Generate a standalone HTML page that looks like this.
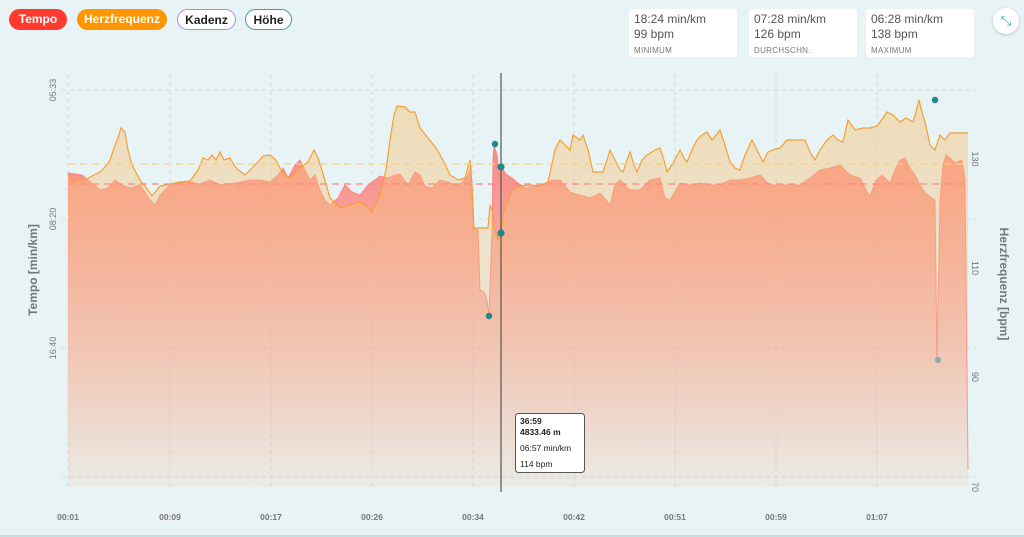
<!DOCTYPE html>
<html><head><meta charset="utf-8"><style>
body{margin:0;width:1024px;height:537px;background:#e8f3f6;font-family:"Liberation Sans",sans-serif;overflow:hidden;position:relative}
.pill{position:absolute;top:9px;height:21px;border-radius:12px;font-size:12px;font-weight:bold;line-height:21px;text-align:center;box-sizing:border-box}
.box{position:absolute;top:9px;width:108px;height:48px;background:#fff;border-radius:3px;font-size:12px;color:#555;padding:3px 5px;box-sizing:border-box;line-height:15px}
.box small{font-size:8px;color:#777;letter-spacing:.3px}
</style></head><body>
<div class="pill" style="left:9px;width:58px;background:#ff3b30;color:#fff">Tempo</div>
<div class="pill" style="left:77px;width:90px;background:#ff9500;color:#fff">Herzfrequenz</div>
<div class="pill" style="left:177px;width:59px;background:#fff;border:1.5px solid #a98af0;color:#222">Kadenz</div>
<div class="pill" style="left:245px;width:47px;background:#fff;border:1.5px solid #4a9a9a;color:#222">Höhe</div>
<div class="box" style="left:629px">18:24 min/km<br>99 bpm<br><small>MINIMUM</small></div>
<div class="box" style="left:749px">07:28 min/km<br>126 bpm<br><small>DURCHSCHN.</small></div>
<div class="box" style="left:866px">06:28 min/km<br>138 bpm<br><small>MAXIMUM</small></div>
<div style="position:absolute;left:993px;top:8px;width:26px;height:26px;border-radius:50%;background:#fff;box-shadow:0 1px 3px rgba(0,0,0,.2);color:#2aa9a9;font-size:13px;text-align:center;line-height:26px">⤡</div>
<svg width="1024" height="537" style="position:absolute;left:0;top:0">
<defs>
<linearGradient id="tg" x1="0" y1="0" x2="0" y2="1"><stop offset="0" stop-color="#fb8a84"/><stop offset="1" stop-color="#fb8a84" stop-opacity="0.03"/></linearGradient>
<linearGradient id="hg" x1="0" y1="0" x2="0" y2="1"><stop offset="0" stop-color="#f6c37a" stop-opacity="0.5"/><stop offset="1" stop-color="#f6c37a" stop-opacity="0.1"/></linearGradient>
</defs>
<g stroke="#c9dde0" stroke-dasharray="4,4" stroke-width="1">
<line x1="62" y1="90" x2="975" y2="90"/><line x1="62" y1="219" x2="975" y2="219"/><line x1="62" y1="348" x2="975" y2="348"/><line x1="62" y1="477" x2="975" y2="477"/>
<line x1="68" y1="75" x2="68" y2="490"/><line x1="170" y1="75" x2="170" y2="490"/><line x1="271" y1="75" x2="271" y2="490"/><line x1="372" y1="75" x2="372" y2="490"/><line x1="473" y1="75" x2="473" y2="490"/><line x1="574" y1="75" x2="574" y2="490"/><line x1="675" y1="75" x2="675" y2="490"/><line x1="776" y1="75" x2="776" y2="490"/><line x1="877" y1="75" x2="877" y2="490"/>
</g>
<path fill="url(#tg)" stroke="none" d="M68,487 L68,173 75,174 82,175 88,180 93,184 100,190 108,188 115,180 122,185 130,188 140,185 150,200 155,205 160,195 170,185 180,183 190,182 200,184 210,180 220,185 235,183 250,180 262,180 270,182 278,175 283,168 288,178 295,165 300,160 305,170 310,180 315,175 320,190 325,200 330,205 338,198 345,185 352,192 360,195 368,185 375,180 380,176 388,178 395,175 400,174 408,185 415,172 420,175 425,186 432,188 440,180 448,182 455,185 462,183 468,175 471,165 473,228 478,230 480,290 484,292 487,300 489,316 492,230 493,160 494,145 497,155 499,175 501,167 506,174 512,178 518,183 526,188 534,186 542,185 552,180 560,180 570,192 580,195 590,198 600,193 610,205 615,185 620,180 630,190 640,190 650,180 660,178 665,198 670,200 680,183 690,185 700,183 710,185 720,185 730,180 740,180 750,178 760,175 770,185 780,185 790,185 800,185 810,178 820,170 830,168 840,165 850,175 860,178 866,190 870,196 876,180 882,175 890,183 895,170 900,160 905,158 910,168 915,175 920,185 925,193 932,198 935,200 937,360 940,200 943,165 946,155 950,158 955,163 962,160 965,180 968,470 968,487Z"/>
<path fill="none" stroke="#f77" stroke-width="1" opacity=".8" d="M68,173 75,174 82,175 88,180 93,184 100,190 108,188 115,180 122,185 130,188 140,185 150,200 155,205 160,195 170,185 180,183 190,182 200,184 210,180 220,185 235,183 250,180 262,180 270,182 278,175 283,168 288,178 295,165 300,160 305,170 310,180 315,175 320,190 325,200 330,205 338,198 345,185 352,192 360,195 368,185 375,180 380,176 388,178 395,175 400,174 408,185 415,172 420,175 425,186 432,188 440,180 448,182 455,185 462,183 468,175 471,165 473,228 478,230 480,290 484,292 487,300 489,316 492,230 493,160 494,145 497,155 499,175 501,167 506,174 512,178 518,183 526,188 534,186 542,185 552,180 560,180 570,192 580,195 590,198 600,193 610,205 615,185 620,180 630,190 640,190 650,180 660,178 665,198 670,200 680,183 690,185 700,183 710,185 720,185 730,180 740,180 750,178 760,175 770,185 780,185 790,185 800,185 810,178 820,170 830,168 840,165 850,175 860,178 866,190 870,196 876,180 882,175 890,183 895,170 900,160 905,158 910,168 915,175 920,185 925,193 932,198 935,200 937,360 940,200 943,165 946,155 950,158 955,163 962,160 965,180 968,470"/>
<path fill="url(#hg)" stroke="none" d="M68,487 L68,175 72,182 78,180 85,180 92,176 100,172 106,166 110,160 114,148 118,138 121,128 125,132 128,150 132,165 140,180 148,190 152,196 160,186 170,184 180,182 190,181 198,170 203,158 208,160 212,155 216,160 220,152 224,160 230,158 236,168 245,175 252,168 258,162 263,156 270,155 276,160 282,172 290,178 300,168 308,162 314,150 318,158 322,170 330,198 340,208 350,205 360,202 366,206 372,212 380,195 386,170 390,140 394,115 397,106 405,107 410,112 415,112 420,128 428,138 436,148 444,162 450,175 458,180 465,178 470,160 472,185 474,228 488,228 490,205 492,210 495,230 498,240 501,233 504,210 508,200 512,190 520,186 530,185 540,186 548,182 555,150 560,140 565,145 570,150 573,135 580,140 583,135 588,150 593,172 603,172 607,160 610,150 615,160 620,170 623,172 627,160 630,152 634,165 637,172 642,160 647,155 655,150 660,148 664,160 667,172 672,165 680,150 684,158 687,162 692,150 697,140 702,135 707,132 712,140 716,135 720,130 725,145 730,162 735,168 740,170 745,155 752,140 757,150 763,162 768,152 773,150 780,148 787,140 795,140 805,140 810,152 815,160 820,150 827,140 833,135 838,140 843,142 848,120 855,130 863,128 870,128 877,126 883,118 887,112 893,115 900,122 906,118 913,122 916,112 919,100 922,112 925,122 930,145 935,150 940,135 945,140 950,133 968,133 968,487Z"/>
<path fill="none" stroke="#f5a030" stroke-width="1.2" d="M68,175 72,182 78,180 85,180 92,176 100,172 106,166 110,160 114,148 118,138 121,128 125,132 128,150 132,165 140,180 148,190 152,196 160,186 170,184 180,182 190,181 198,170 203,158 208,160 212,155 216,160 220,152 224,160 230,158 236,168 245,175 252,168 258,162 263,156 270,155 276,160 282,172 290,178 300,168 308,162 314,150 318,158 322,170 330,198 340,208 350,205 360,202 366,206 372,212 380,195 386,170 390,140 394,115 397,106 405,107 410,112 415,112 420,128 428,138 436,148 444,162 450,175 458,180 465,178 470,160 472,185 474,228 488,228 490,205 492,210 495,230 498,240 501,233 504,210 508,200 512,190 520,186 530,185 540,186 548,182 555,150 560,140 565,145 570,150 573,135 580,140 583,135 588,150 593,172 603,172 607,160 610,150 615,160 620,170 623,172 627,160 630,152 634,165 637,172 642,160 647,155 655,150 660,148 664,160 667,172 672,165 680,150 684,158 687,162 692,150 697,140 702,135 707,132 712,140 716,135 720,130 725,145 730,162 735,168 740,170 745,155 752,140 757,150 763,162 768,152 773,150 780,148 787,140 795,140 805,140 810,152 815,160 820,150 827,140 833,135 838,140 843,142 848,120 855,130 863,128 870,128 877,126 883,118 887,112 893,115 900,122 906,118 913,122 916,112 919,100 922,112 925,122 930,145 935,150 940,135 945,140 950,133 968,133"/>
<line x1="68" y1="164" x2="968" y2="164" stroke="#f8d08a" stroke-width="1.3" stroke-dasharray="7,5"/>
<line x1="68" y1="184" x2="968" y2="184" stroke="#f78a80" stroke-width="1.3" stroke-dasharray="7,5"/>
<line x1="501" y1="73" x2="501" y2="492" stroke="#555" stroke-width="1.2"/>
<g fill="#1e8a8a" stroke="#177" stroke-width=".5">
<circle cx="495" cy="144" r="3"/><circle cx="501" cy="167" r="3.3"/><circle cx="501" cy="233" r="3.3"/><circle cx="489" cy="316" r="3"/><circle cx="935" cy="100" r="3"/><circle cx="938" cy="360" r="3" fill="#8aa" stroke="none"/>
</g>
<rect x="515.5" y="413.5" width="69" height="59" rx="3" fill="#fff" stroke="#555"/>
<g font-size="8.5" fill="#222"><text x="520" y="424" font-weight="bold">36:59</text><text x="520" y="435" font-weight="bold">4833.46 m</text><text x="520" y="451">06:57 min/km</text><text x="520" y="467">114 bpm</text></g>
<g font-size="9" fill="#777">
<text transform="translate(56,90) rotate(-90)" text-anchor="middle">05:33</text>
<text transform="translate(56,219) rotate(-90)" text-anchor="middle">08:20</text>
<text transform="translate(56,348) rotate(-90)" text-anchor="middle">16:40</text>
<text transform="translate(972,159) rotate(90)" text-anchor="middle">130</text>
<text transform="translate(972,268) rotate(90)" text-anchor="middle">110</text>
<text transform="translate(972,377) rotate(90)" text-anchor="middle">90</text>
<text transform="translate(972,487) rotate(90)" text-anchor="middle">70</text>
</g>
<text transform="translate(37,270) rotate(-90)" text-anchor="middle" font-size="12" font-weight="bold" fill="#777">Tempo [min/km]</text>
<text transform="translate(1000,284) rotate(90)" text-anchor="middle" font-size="12" font-weight="bold" fill="#777">Herzfrequenz [bpm]</text>
<g font-size="8.5" fill="#777" text-anchor="middle" font-weight="bold">
<text x="68" y="520">00:01</text><text x="170" y="520">00:09</text><text x="271" y="520">00:17</text><text x="372" y="520">00:26</text><text x="473" y="520">00:34</text><text x="574" y="520">00:42</text><text x="675" y="520">00:51</text><text x="776" y="520">00:59</text><text x="877" y="520">01:07</text>
</g>
<line x1="0" y1="536" x2="1024" y2="536" stroke="#bfe3e3" stroke-width="2"/>
</svg>
</body></html>
